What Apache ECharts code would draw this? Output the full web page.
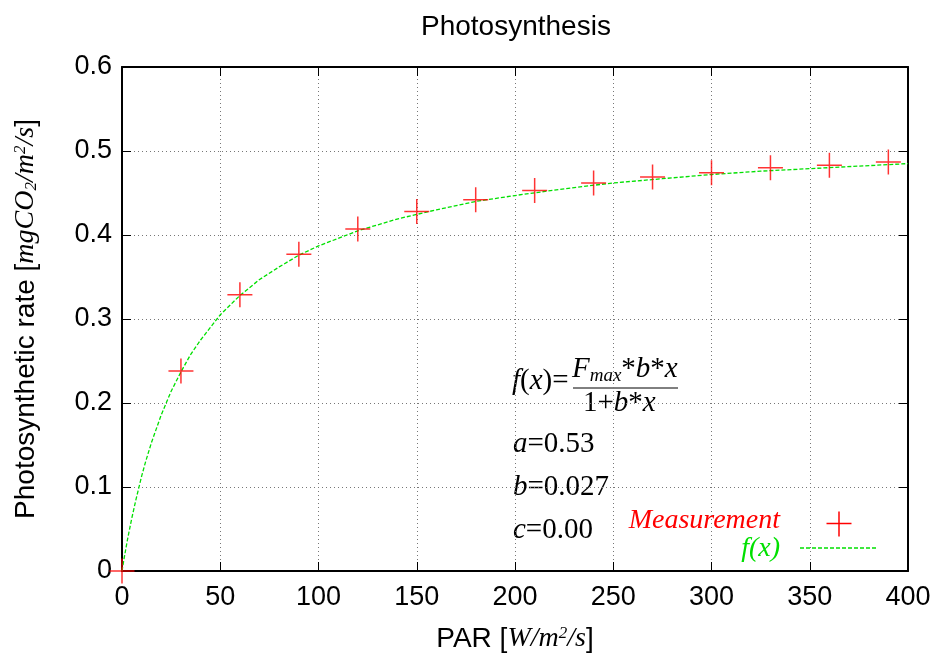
<!DOCTYPE html>
<html>
<head>
<meta charset="utf-8">
<script src="https://cdn.jsdelivr.net/npm/echarts@6/dist/echarts.min.js"></script>
<style>
html,body{margin:0;padding:0;background:#fff;}
#chart{width:935px;height:655px;}
</style>
</head>
<body>
<div id="chart"></div>
<script>
// ---- data ----
var parValues = [0, 30, 60, 90, 120, 150, 180, 210, 240, 270, 300, 330, 360, 390];
var rateValues = [0, 0.238, 0.329, 0.377, 0.407, 0.428, 0.442, 0.453, 0.462, 0.469, 0.474, 0.480, 0.483, 0.487];
var fitX = [0, 1, 2, 3, 5, 7, 10, 12, 15, 20, 25, 30, 35, 40, 50, 60, 70, 80, 90, 100, 120, 140, 160, 180, 200, 225, 250, 275, 300, 325, 350, 375, 400];
var fitY = [0, 0.014, 0.027, 0.040, 0.063, 0.084, 0.113, 0.130, 0.153, 0.186, 0.214, 0.237, 0.258, 0.275, 0.305, 0.328, 0.347, 0.362, 0.376, 0.387, 0.405, 0.419, 0.430, 0.440, 0.447, 0.455, 0.462, 0.467, 0.472, 0.476, 0.479, 0.482, 0.485];
var xTicks = [0, 50, 100, 150, 200, 250, 300, 350, 400];
var yTicks = [0, 0.1, 0.2, 0.3, 0.4, 0.5, 0.6];
var paramLabels = ['a', 'b', 'c'];
var paramValues = ['0.53', '0.027', '0.00'];

var SANS = '"Liberation Sans", Arial, Helvetica, sans-serif';
var SERIF = '"Liberation Serif", "Times New Roman", serif';
var RED = '#ff0000';
var GREEN = '#00e000';

var measData = parValues.map(function (x, i) { return [x, rateValues[i]]; });
var fitData = fitX.map(function (x, i) { return [x, fitY[i]]; });

var chart = echarts.init(document.getElementById('chart'), null, {renderer: 'canvas'});

var tickStyle = {show: true, inside: true, length: 9, lineStyle: {color: '#000', width: 1}};
var lineStyleAxis = {show: true, onZero: false, lineStyle: {color: '#000', width: 2}};
var gridLine = {show: true, lineStyle: {color: '#777', type: [1, 3], width: 1}};

var nameRich = {
  s: {fontFamily: SANS, fontSize: 28, color: '#000'},
  i: {fontFamily: SERIF, fontStyle: 'italic', fontSize: 28, color: '#000'},
  sub: {fontFamily: SERIF, fontStyle: 'italic', fontSize: 17, color: '#000', verticalAlign: 'bottom', lineHeight: 14},
  sup: {fontFamily: SERIF, fontStyle: 'italic', fontSize: 17, color: '#000', verticalAlign: 'top', lineHeight: 14}
};

var paramGraphics = paramLabels.map(function (p, i) {
  return {
    type: 'text', left: 513, top: 430 + i * 43,
    style: {
      text: '{i|' + p + '}{n|=' + paramValues[i] + '}',
      rich: {
        i: {fontFamily: SERIF, fontStyle: 'italic', fontSize: 29, fill: '#000'},
        n: {fontFamily: SERIF, fontSize: 29, fill: '#000'}
      }
    }
  };
});

var option = {
  animation: false,
  backgroundColor: '#fff',
  title: {
    text: 'Photosynthesis',
    left: 416, top: 8,
    textStyle: {fontFamily: SANS, fontSize: 28, fontWeight: 'normal', color: '#000'}
  },
  grid: {left: 122, right: 27, top: 67, bottom: 84, containLabel: false, outerBoundsMode: 'none'},
  xAxis: [{
    type: 'value', min: 0, max: 400, interval: 50, position: 'bottom',
    axisLine: lineStyleAxis, axisTick: tickStyle, splitLine: gridLine,
    axisLabel: {fontFamily: SANS, fontSize: 27, color: '#000', margin: 13},
    name: '{s|PAR [}{i|W/m}{sup|2}{i|/s}{s|]}',
    nameLocation: 'middle', nameGap: 54,
    nameTextStyle: {rich: nameRich}
  }, {
    type: 'value', min: 0, max: 400, interval: 50, position: 'top',
    axisLine: lineStyleAxis, axisTick: tickStyle, splitLine: {show: false},
    axisLabel: {show: false}
  }],
  yAxis: [{
    type: 'value', min: 0, max: 0.6, interval: 0.1, position: 'left',
    axisLine: lineStyleAxis, axisTick: tickStyle, splitLine: gridLine,
    axisLabel: {fontFamily: SANS, fontSize: 27, color: '#000', margin: 10,
      formatter: function (v) { return v === 0 ? '0' : v.toFixed(1); }},
    name: '{s|Photosynthetic rate [}{i|mgCO}{sub|2}{i|/m}{sup|2}{i|/s}{s|]}',
    nameLocation: 'middle', nameGap: 82, nameRotate: 90,
    nameTextStyle: {rich: nameRich}
  }, {
    type: 'value', min: 0, max: 0.6, interval: 0.1, position: 'right',
    axisLine: lineStyleAxis, axisTick: tickStyle, splitLine: {show: false},
    axisLabel: {show: false}
  }],
  series: [{
    name: 'f(x)', type: 'line', data: fitData,
    xAxisIndex: 0, yAxisIndex: 0,
    showSymbol: false, smooth: false,
    lineStyle: {color: GREEN, width: 1.3, type: [4, 2]},
    z: 3
  }, {
    name: 'Measurement', type: 'scatter', data: measData,
    xAxisIndex: 0, yAxisIndex: 0,
    symbol: 'path://M0,-10 L0,10 M-10,0 L10,0',
    symbolSize: 25, clip: false,
    itemStyle: {color: 'none', borderColor: RED, borderWidth: 1.5},
    z: 4
  }],
  graphic: [
    // formula
    {type: 'text', left: 512, top: 367,
      style: {text: '{i|f}{n|(}{i|x}{n|)=}',
        rich: {i: {fontFamily: SERIF, fontStyle: 'italic', fontSize: 29, fill: '#000'},
               n: {fontFamily: SERIF, fontSize: 29, fill: '#000'}}}},
    {type: 'text', left: 572, top: 355,
      style: {text: '{i|F}{sub|max}{n|*}{i|b}{n|*}{i|x}',
        rich: {i: {fontFamily: SERIF, fontStyle: 'italic', fontSize: 29, fill: '#000', lineHeight: 32},
               n: {fontFamily: SERIF, fontSize: 29, fill: '#000', lineHeight: 32},
               sub: {fontFamily: SERIF, fontStyle: 'italic', fontSize: 19, fill: '#000', verticalAlign: 'bottom', lineHeight: 17}}}},
    {type: 'line', shape: {x1: 573, y1: 388, x2: 678, y2: 388}, style: {stroke: '#000', lineWidth: 1}},
    {type: 'text', left: 583, top: 389,
      style: {text: '{n|1+}{i|b}{n|*}{i|x}',
        rich: {i: {fontFamily: SERIF, fontStyle: 'italic', fontSize: 29, fill: '#000'},
               n: {fontFamily: SERIF, fontSize: 29, fill: '#000'}}}}
  ].concat(paramGraphics).concat([
    // legend
    {type: 'text', right: 155, top: 507,
      style: {text: 'Measurement', fill: RED, fontFamily: SERIF, fontStyle: 'italic', fontSize: 28, align: 'right'}},
    {type: 'group', left: 824, top: 509, children: [
      {type: 'line', shape: {x1: 0, y1: 12, x2: 25, y2: 12}, style: {stroke: RED, lineWidth: 1.5}},
      {type: 'line', shape: {x1: 12.5, y1: 0, x2: 12.5, y2: 25}, style: {stroke: RED, lineWidth: 1.5}}
    ]},
    {type: 'text', right: 155, top: 535,
      style: {text: 'f(x)', fill: GREEN, fontFamily: SERIF, fontStyle: 'italic', fontSize: 28, align: 'right'}},
    {type: 'line', shape: {x1: 800, y1: 548, x2: 876, y2: 548}, style: {stroke: GREEN, lineWidth: 1.3, lineDash: [4, 2]}}
  ])
};
chart.setOption(option);
</script>
</body>
</html>
